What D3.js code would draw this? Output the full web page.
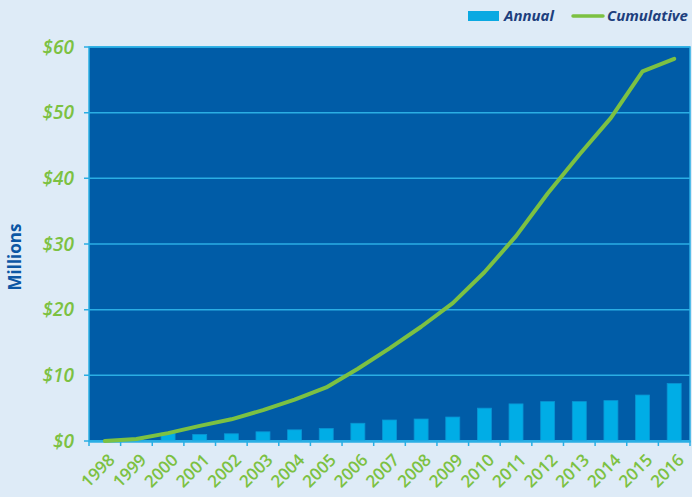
<!DOCTYPE html>
<html>
<head>
    <script src="https://d3js.org/d3.v7.min.js"></script>
    <style>
        body { margin: 0; background: #deebf7; }
        text { font-family: "Open Sans", sans-serif; }
    </style>
</head>
<body>
    <svg width="692" height="497"></svg>
    <script>
        var years = ["1998", "1999", "2000", "2001", "2002", "2003", "2004", "2005", "2006", "2007",
                     "2008", "2009", "2010", "2011", "2012", "2013", "2014", "2015", "2016"];
        var annual = [0, 0.2, 1.2, 1.0, 1.1, 1.4, 1.7, 1.9, 2.7, 3.2,
                      3.35, 3.65, 5.0, 5.65, 6.0, 6.0, 6.15, 7.0, 8.75];
        var cumulative = [0, 0.3, 1.2, 2.3, 3.3, 4.7, 6.3, 8.15, 11.0, 14.1,
                          17.4, 21.0, 25.7, 31.2, 37.7, 43.6, 49.2, 56.3, 58.2];
        var yTicks = [0, 10, 20, 30, 40, 50, 60];

        var svg = d3.select("svg"),
            margin = {top: 47, right: 2, bottom: 56, left: 89},
            width = +svg.attr("width") - margin.left - margin.right,
            height = +svg.attr("height") - margin.top - margin.bottom;

        var green = "#7cc142", navy = "#1d3f7e";

        var xc = d3.scaleBand().domain(years).range([0, width]);
        var y = d3.scaleLinear().domain([0, 60]).range([height, 0]);

        var g = svg.append("g").attr("transform", "translate(" + margin.left + "," + margin.top + ")");

        // plot background
        g.append("rect")
            .attr("width", width)
            .attr("height", height)
            .attr("fill", "#005ca7")
            .attr("stroke", "#2aaee4")
            .attr("stroke-width", 1.5);

        // gridlines
        g.selectAll(".grid").data(yTicks).enter()
            .append("line")
            .attr("x1", -5).attr("x2", width)
            .attr("y1", function(d) { return y(d); })
            .attr("y2", function(d) { return y(d); })
            .attr("stroke", "#2aaee4")
            .attr("stroke-width", 1.5);

        // y labels
        g.selectAll(".ylab").data(yTicks).enter()
            .append("text")
            .attr("x", -15)
            .attr("y", function(d) { return y(d); })
            .attr("dy", "0.35em")
            .attr("text-anchor", "end")
            .attr("fill", green)
            .attr("font-size", "19px")
            .attr("font-weight", 600)
            .attr("font-style", "italic")
            .text(function(d) { return "$" + d; });

        // bars
        g.selectAll(".bar").data(annual).enter()
            .append("rect")
            .attr("x", function(d, i) { return xc(years[i]) + xc.bandwidth() / 2 - 7; })
            .attr("y", function(d) { return y(d); })
            .attr("width", 14)
            .attr("height", function(d) { return height - y(d); })
            .attr("fill", "#00ade6")
            .attr("stroke", "#0995d3")
            .attr("stroke-width", 0.8);

        // x axis
        var xAxis = d3.axisBottom(xc).tickSize(0).tickFormat("");
        var ax = g.append("g").attr("transform", "translate(0," + height + ")").call(xAxis);
        ax.select(".domain").attr("stroke", "#2aaee4").attr("stroke-width", 2.5);
        ax.selectAll(".bnd").data(d3.range(years.length + 1)).enter()
            .append("line")
            .attr("x1", function(i) { return i * xc.step(); })
            .attr("x2", function(i) { return i * xc.step(); })
            .attr("y1", 0).attr("y2", 5)
            .attr("stroke", "#2aaee4")
            .attr("stroke-width", 1.5);

        g.selectAll(".xlab").data(years).enter()
            .append("text")
            .attr("transform", function(d) {
                return "translate(" + (xc(d) + xc.bandwidth() / 2 + 11) + "," + (height + 20) + ") rotate(-45)";
            })
            .attr("text-anchor", "end")
            .attr("fill", green)
            .attr("font-size", "17px")
            .attr("font-weight", 600)
            .text(function(d) { return d; });

        // cumulative line
        var line = d3.line()
            .x(function(d, i) { return xc(years[i]) + xc.bandwidth() / 2; })
            .y(function(d) { return y(d); });
        g.append("path")
            .datum(cumulative)
            .attr("d", line)
            .attr("fill", "none")
            .attr("stroke", green)
            .attr("stroke-width", 4)
            .attr("stroke-linecap", "round")
            .attr("stroke-linejoin", "round");

        // y title
        svg.append("text")
            .attr("transform", "translate(21,257) rotate(-90)")
            .attr("text-anchor", "middle")
            .attr("fill", "#0b56a4")
            .attr("font-size", "17px")
            .attr("font-weight", "bold")
            .text("Millions");

        // legend
        var lg = svg.append("g");
        lg.append("rect").attr("x", 468).attr("y", 11).attr("width", 31).attr("height", 10).attr("fill", "#0aa9e2");
        lg.append("text").attr("x", 504).attr("y", 21).attr("fill", navy)
            .attr("font-size", "15px").attr("font-style", "italic").attr("font-weight", "bold").text("Annual");
        lg.append("line").attr("x1", 573).attr("x2", 603).attr("y1", 16).attr("y2", 16)
            .attr("stroke", green).attr("stroke-width", 3.5).attr("stroke-linecap", "round");
        lg.append("text").attr("x", 607).attr("y", 21).attr("fill", navy)
            .attr("font-size", "15px").attr("font-style", "italic").attr("font-weight", "bold").text("Cumulative");
    </script>
</body>
</html>
